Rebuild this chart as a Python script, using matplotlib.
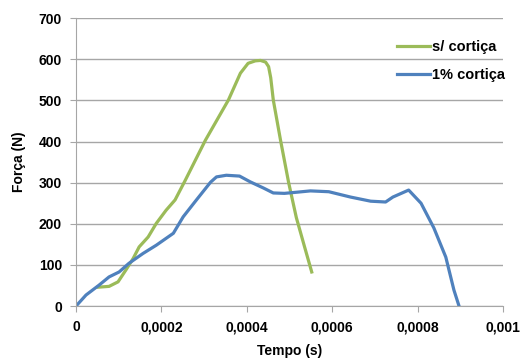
import numpy as np
import matplotlib.pyplot as plt
from matplotlib.ticker import FuncFormatter

plt.rcParams['font.family'] = ['Liberation Sans', 'DejaVu Sans']

# ensaio sem cortiça (tempo em s, força em N)
t_sem = [0.0000516, 0.0000775, 0.0000985, 0.000117, 0.000134, 0.000148, 0.000169,
         0.000188, 0.000211, 0.000232, 0.000256, 0.000303, 0.000357, 0.000385,
         0.000403, 0.000420, 0.000432, 0.000444, 0.000451, 0.000456, 0.000462,
         0.000479, 0.000498, 0.000516, 0.000535, 0.000552]
f_sem = [46, 48, 59, 88, 116, 144, 168, 201, 233, 258, 306, 403, 501, 566,
         590, 596, 597, 593, 582, 555, 501, 403, 300, 215, 145, 83]

# ensaio com 1% de cortiça
t_1 = [0.0, 0.0000235, 0.0000540, 0.0000775, 0.000101, 0.000124, 0.000157,
       0.000188, 0.000228, 0.000251, 0.000282, 0.000315, 0.000329, 0.000352,
       0.000383, 0.000408, 0.000439, 0.000462, 0.000488, 0.000519, 0.000549,
       0.000592, 0.000643, 0.000690, 0.000725, 0.000742, 0.000779, 0.000808,
       0.000838, 0.000866, 0.000885, 0.000897]
f_1 = [0, 27, 51, 71, 83, 104, 128, 148, 177, 217, 258, 301, 314, 318, 316,
       302, 287, 275, 274, 277, 280, 278, 265, 255, 253, 265, 282, 250, 190,
       119, 39, 0]

fig = plt.figure(figsize=(5.24, 3.61), dpi=100)
ax = fig.add_axes([0.145, 0.152, 0.815, 0.798])

ax.plot(t_sem, f_sem, color='#9BBB59', lw=2.3, label='s/ cortiça')
ax.plot(t_1, f_1, color='#4F81BD', lw=2.3, label='1% cortiça')

ax.set_xlim(0, 0.001)
ax.set_ylim(0, 700)
ax.set_xticks(np.arange(0, 0.0011, 0.0002))
ax.set_yticks(np.arange(0, 701, 100))

def virgula(v, pos):
    if v == 0:
        return '0'
    return ('%g' % round(v, 6)).replace('.', ',')

ax.xaxis.set_major_formatter(FuncFormatter(virgula))

ax.grid(axis='y', color='#a6a6a6', lw=1)
ax.set_axisbelow(True)
for s in ['top', 'right']:
    ax.spines[s].set_visible(False)
for s in ['left', 'bottom']:
    ax.spines[s].set_color('#a6a6a6')
ax.tick_params(axis='both', color='#a6a6a6', length=4, direction='out',
               labelsize=10, pad=6)
for lab in ax.get_xticklabels() + ax.get_yticklabels():
    lab.set_fontweight('bold')

ax.set_xlabel('Tempo (s)', fontweight='bold', fontsize=10, labelpad=7)
ax.set_ylabel('Força (N)', fontweight='bold', fontsize=10, labelpad=9)

leg = ax.legend(loc='upper left', bbox_to_anchor=(0.72, 0.97), frameon=False,
                handlelength=2.3, labelspacing=1.0, handletextpad=0.1,
                prop={'weight': 'bold', 'size': 10.5})

fig.savefig('out.png', dpi=100)
